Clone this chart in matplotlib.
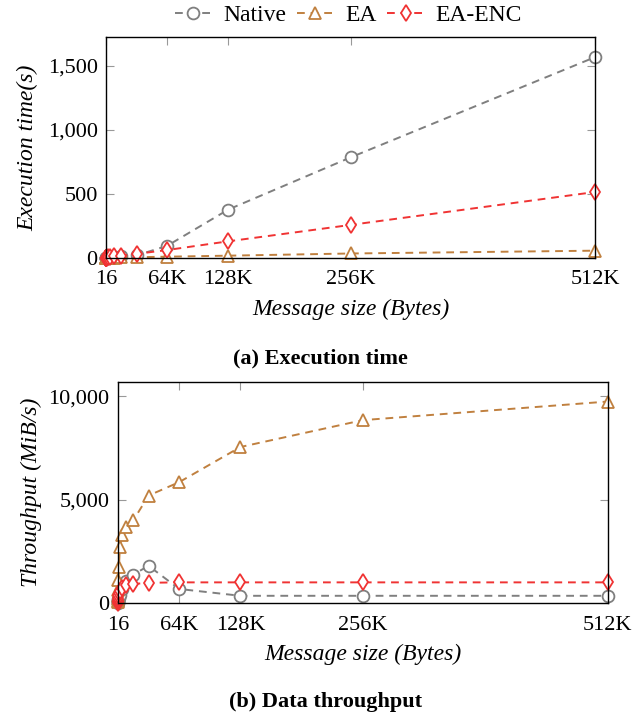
import matplotlib.pyplot as plt
from matplotlib.ticker import FuncFormatter

# message sizes in bytes (16 B .. 512 KiB)
sizes = [16, 32, 64, 128, 256, 512, 1024, 2048, 4096, 8192, 16384,
         32768, 65536, 131072, 262144, 524288]
x_ticks = [16, 65536, 131072, 262144, 524288]
x_tick_labels = ['16', '64K', '128K', '256K', '512K']

# execution time (s)
time_native = [1, 1, 1, 1, 1, 2, 2, 3, 5, 8, 12, 20, 95, 378, 785, 1568]
time_ea = [0.5, 0.5, 0.5, 0.5, 0.5, 0.5, 1, 1, 1, 2, 4, 6, 10, 18, 35, 57]
time_enc = [2, 2, 2, 2, 2, 3, 3, 4, 8, 12, 18, 32, 62, 130, 258, 515]

# throughput (MiB/s)
tput_native = [20, 40, 70, 100, 130, 180, 250, 400, 700, 1050, 1380, 1800,
               680, 350, 350, 350]
tput_ea = [50, 100, 200, 350, 630, 1100, 1750, 2700, 3300, 3700, 4000,
           5200, 5850, 7550, 8850, 9750]
tput_enc = [20, 40, 80, 150, 250, 380, 470, 600, 720, 870, 920, 980,
            1000, 1000, 1000, 1000]

plt.rcParams['font.family'] = ['Liberation Serif', 'DejaVu Serif']
plt.rcParams['font.size'] = 16

c_native = '#7f7f7f'
c_ea = '#c0803f'
c_enc = '#f03333'

fig = plt.figure(figsize=(6.33, 7.15), dpi=100)
ax1 = fig.add_axes([0.1675, 0.6392, 0.7725, 0.309])
ax2 = fig.add_axes([0.1864, 0.1566, 0.774, 0.309])


def draw(ax, native, ea, enc):
    style = dict(linestyle=(0, (4, 3)), linewidth=1.4, markersize=8.5,
                 markerfacecolor='white', markeredgewidth=1.3, clip_on=False)
    l1, = ax.plot(sizes, native, marker='o', color=c_native, label='Native', **style)
    l2, = ax.plot(sizes, ea, marker='^', color=c_ea, label='EA', **style)
    l3, = ax.plot(sizes, enc, marker='d', color=c_enc, label='EA-ENC', **style)
    ax.set_xlim(16, 524288)
    ax.set_xticks(x_ticks)
    ax.set_xticklabels(x_tick_labels)
    ax.tick_params(direction='in', top=True, right=True, length=6,
                   color='#999999', labelsize=16)
    ax.tick_params(axis='x', pad=9)
    ax.tick_params(axis='y', pad=6)
    ax.yaxis.set_major_formatter(FuncFormatter(lambda v, p: f'{int(v):,}'))
    ax.set_xlabel('Message size (Bytes)', fontstyle='italic', fontsize=17,
                  labelpad=7)
    for sp in ax.spines.values():
        sp.set_linewidth(1.0)
    return [l1, l2, l3]


lines = draw(ax1, time_native, time_ea, time_enc)
ax1.set_ylim(0, 1725)
ax1.set_yticks([0, 500, 1000, 1500])
ax1.set_ylabel('Execution time(s)', fontstyle='italic', fontsize=17, labelpad=7)

draw(ax2, tput_native, tput_ea, tput_enc)
ax2.set_ylim(0, 10690)
ax2.set_yticks([0, 5000, 10000])
ax2.set_ylabel('Throughput (MiB/s)', fontstyle='italic', fontsize=17, labelpad=5)

fig.legend(handles=lines, loc='center', bbox_to_anchor=(0.55, 0.978), ncol=3,
           frameon=False, handlelength=1.6, columnspacing=0.45,
           handletextpad=0.45, fontsize=17)

fig.text(0.507, 0.499, '(a) Execution time', ha='center', va='center',
         fontweight='bold', fontsize=16)
fig.text(0.515, 0.018, '(b) Data throughput', ha='center', va='center',
         fontweight='bold', fontsize=16)

fig.savefig('out.png', dpi=100)
plt.close(fig)
